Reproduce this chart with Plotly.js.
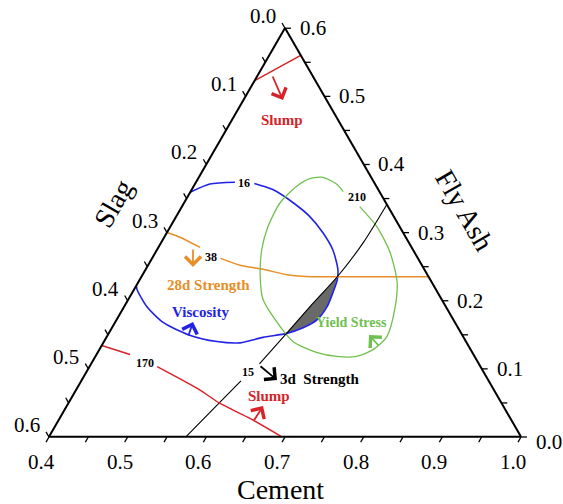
<!DOCTYPE html>
<html>
<head>
<meta charset="utf-8">
<script src="https://cdn.plot.ly/plotly-3.0.1.min.js"></script>
<style>html,body{margin:0;padding:0;background:#fff;}#chart{width:563px;height:504px;}</style>
</head>
<body>
<div id="chart"></div>
<script>
// ---- data (fly ash, slag, cement mass fractions) ----
const slumpTopFly    = [0.523, 0.560];
const slumpTopSlag   = [0.077, 0.000];
const slumpTopCement = [0.400, 0.440];

const viscFly    = [0.359, 0.371, 0.374, null, 0.372, 0.363, 0.344, 0.324, 0.300, 0.275, 0.246, 0.231, 0.212, 0.191, 0.172, 0.160, 0.152, 0.146, 0.138, 0.140, 0.150, 0.168, 0.191, 0.216, 0.222];
const viscSlag   = [0.241, 0.210, 0.177, null, 0.153, 0.134, 0.118, 0.107, 0.102, 0.102, 0.110, 0.118, 0.133, 0.151, 0.173, 0.197, 0.222, 0.255, 0.288, 0.317, 0.348, 0.371, 0.380, 0.380, 0.378];
const viscCement = [0.400, 0.419, 0.450, null, 0.475, 0.503, 0.538, 0.570, 0.598, 0.624, 0.645, 0.651, 0.655, 0.658, 0.655, 0.643, 0.627, 0.599, 0.574, 0.544, 0.502, 0.461, 0.429, 0.404, 0.400];

const str28Fly    = [0.300, 0.293, 0.278, null, 0.262, 0.252, 0.246, 0.238, 0.235, 0.235, 0.235, 0.235];
const str28Slag   = [0.300, 0.287, 0.269, null, 0.251, 0.231, 0.205, 0.178, 0.147, 0.116, 0.062, 0.000];
const str28Cement = [0.400, 0.420, 0.453, null, 0.487, 0.517, 0.549, 0.584, 0.618, 0.649, 0.703, 0.765];

const str3Fly    = [0.000, 0.043, 0.082, null, 0.107, 0.152, 0.194, 0.235, 0.285, 0.341];
const str3Slag   = [0.426, 0.368, 0.315, null, 0.279, 0.222, 0.169, 0.116, 0.058, 0.000];
const str3Cement = [0.574, 0.589, 0.603, null, 0.614, 0.626, 0.637, 0.649, 0.657, 0.659];

const yieldFly    = [0.338, 0.309, 0.271, 0.227, 0.187, 0.147, 0.128, 0.118, 0.118, 0.124, 0.140, 0.168, 0.202, 0.235, 0.275, 0.309, 0.344, 0.368, 0.379, 0.381, 0.371, 0.360];
const yieldSlag   = [0.036, 0.029, 0.031, 0.044, 0.067, 0.097, 0.124, 0.150, 0.175, 0.198, 0.220, 0.226, 0.227, 0.214, 0.192, 0.167, 0.134, 0.101, 0.079, 0.061, 0.049, 0.046];
const yieldCement = [0.626, 0.662, 0.698, 0.729, 0.746, 0.756, 0.748, 0.732, 0.707, 0.678, 0.640, 0.606, 0.571, 0.551, 0.533, 0.524, 0.522, 0.531, 0.542, 0.558, 0.580, 0.594];

const slumpBotFly    = [0.134, 0.121, null, 0.103, 0.069, 0.049, 0.027, 0.000];
const slumpBotSlag   = [0.466, 0.437, null, 0.411, 0.374, 0.358, 0.331, 0.304];
const slumpBotCement = [0.400, 0.443, null, 0.486, 0.557, 0.593, 0.642, 0.696];

const zoneFly    = [0.152, 0.194, 0.235, 0.212, 0.191, 0.172, 0.160, 0.152];
const zoneSlag   = [0.222, 0.169, 0.116, 0.133, 0.151, 0.173, 0.197, 0.222];
const zoneCement = [0.626, 0.637, 0.649, 0.655, 0.658, 0.655, 0.643, 0.626];

// ---- axis ticks and labels ----
const slagTicks   = [0, 0.05, 0.1, 0.15, 0.2, 0.25, 0.3, 0.35, 0.4, 0.45, 0.5, 0.55, 0.6];
const cementTicks = [0.4, 0.45, 0.5, 0.55, 0.6, 0.65, 0.7, 0.75, 0.8, 0.85, 0.9, 0.95, 1.0];
const flyTicks    = [0, 0.05, 0.1, 0.15, 0.2, 0.25, 0.3, 0.35, 0.4, 0.45, 0.5, 0.55, 0.6];
const slagLabelVals   = [0.0, 0.1, 0.2, 0.3, 0.4, 0.5, 0.6];
const slagLabels      = ['0.0', '0.1', '0.2', '0.3', '0.4', '0.5', '0.6'];
const cementLabelVals = [0.4, 0.5, 0.6, 0.7, 0.8, 0.9, 1.0];
const cementLabels    = ['0.4', '0.5', '0.6', '0.7', '0.8', '0.9', '1.0'];
const flyLabelVals    = [0.0, 0.1, 0.2, 0.3, 0.4, 0.5, 0.6];
const flyLabels       = ['0.0', '0.1', '0.2', '0.3', '0.4', '0.5', '0.6'];

const RED = 'rgb(215,35,40)', BLUE = 'rgb(35,35,230)', ORANGE = 'rgb(230,142,40)', GREEN = 'rgb(112,192,80)';
const SERIF = 'Liberation Serif, Times New Roman, serif';

function tr(a, b, c, color, width, extra) {
  return Object.assign({
    type: 'scatterternary', mode: 'lines', a: a, b: b, c: c,
    line: {color: color, width: width, shape: 'spline', smoothing: 0.7},
    hoverinfo: 'skip', showlegend: false, connectgaps: false
  }, extra || {});
}

const data = [
  tr(zoneFly, zoneSlag, zoneCement, 'rgb(105,105,105)', 0.5, {fill: 'toself', fillcolor: 'rgb(105,105,105)', line: {color: 'rgb(105,105,105)', width: 0.5}}),
  tr(slumpTopFly, slumpTopSlag, slumpTopCement, RED, 1.5),
  tr(viscFly, viscSlag, viscCement, BLUE, 1.6),
  tr(str28Fly, str28Slag, str28Cement, ORANGE, 1.5),
  tr(yieldFly, yieldSlag, yieldCement, GREEN, 1.3),
  tr(str3Fly, str3Slag, str3Cement, 'black', 1.1),
  tr(slumpBotFly, slumpBotSlag, slumpBotCement, RED, 1.5)
];

// ---- ternary frame geometry (same domain as layout.ternary) ----
const W = 563, H = 504;
const X0 = 49, X1 = 521, YB = 437;
const SIDE = X1 - X0, HT = SIDE * Math.sqrt(3) / 2;
// composition (fly ash, cement) -> page pixel, matching the ternary frame (fly 0..0.6, slag 0..0.6, cement 0.4..1)
function toPx(fly, cement) {
  const v = fly / 0.6;
  const u = (cement - 0.4) / 0.6 + v / 2;
  return [X0 + SIDE * u, YB - HT * v];
}
const px = x => x / W, py = y => 1 - y / H;

const shapes = [];
const tickAnn = [];
const TL = 6;
function addTick(p, dx, dy) {
  shapes.push({type: 'line', xref: 'paper', yref: 'paper', x0: px(p[0]), y0: py(p[1]),
               x1: px(p[0] + dx * TL), y1: py(p[1] + dy * TL), line: {color: 'black', width: 1.3}});
}
function addTickLabel(p, ox, oy, text) {
  tickAnn.push({xref: 'paper', yref: 'paper', x: px(p[0] + ox), y: py(p[1] + oy), text: text, showarrow: false,
                font: {family: SERIF, size: 21, color: 'black'}, xanchor: 'center', yanchor: 'middle'});
}
// slag on the left edge (cement = 0.4), ticks along constant-slag direction
slagTicks.forEach(s => addTick(toPx(0.6 - s, 0.4), -0.5, -0.866));
slagLabelVals.forEach((s, i) => addTickLabel(toPx(0.6 - s, 0.4), -22, -12, slagLabels[i]));
// cement on the bottom edge (fly ash = 0), ticks along constant-cement direction
cementTicks.forEach(c => addTick(toPx(0, c), -0.5, 0.866));
cementLabelVals.forEach((c, i) => addTickLabel(toPx(0, c), -8, 25, cementLabels[i]));
// fly ash on the right edge (slag = 0), ticks along constant-fly-ash direction
flyTicks.forEach(f => addTick(toPx(f, 1 - f), 1, 0));
flyLabelVals.forEach((f, i) => addTickLabel(toPx(f, 1 - f), 28, f === 0 ? 5 : 0, flyLabels[i]));

const axisCommon = {
  showgrid: false, showline: true, linecolor: 'black', linewidth: 2,
  ticks: '', showticklabels: false, title: {text: ''}
};

function label(x, y, text, color, size, extra) {
  return Object.assign({
    xref: 'paper', yref: 'paper', x: px(x), y: py(y), text: text, showarrow: false,
    font: {family: SERIF, size: size, color: color},
    xanchor: 'center', yanchor: 'middle'
  }, extra || {});
}
function arrow(hx, hy, tx, ty, color) {
  return {
    xref: 'paper', yref: 'paper', x: px(hx), y: py(hy), ax: tx - hx, ay: ty - hy,
    text: '', showarrow: true, arrowhead: 4, arrowsize: 1.7, arrowwidth: 1.8, arrowcolor: color, standoff: 0, startstandoff: 0
  };
}

const layout = {
  width: W, height: H, margin: {l: 0, r: 0, t: 0, b: 0},
  paper_bgcolor: 'white', showlegend: false,
  ternary: {
    sum: 1,
    domain: {x: [X0 / W, X1 / W], y: [(H - YB) / H, (H - YB + HT + 0.3) / H]},
    bgcolor: 'white',
    aaxis: Object.assign({}, axisCommon, {min: 0}),
    baxis: Object.assign({}, axisCommon, {min: 0}),
    caxis: Object.assign({}, axisCommon, {min: 0.4})
  },
  shapes: shapes,
  annotations: tickAnn.concat([
    label(113, 203, 'Slag', 'black', 28, {textangle: -60}),
    label(465, 210, 'Fly Ash', 'black', 28, {textangle: 60}),
    label(280, 489, 'Cement', 'black', 28),
    label(282, 120, '<b>Slump</b>', RED, 15),
    label(208, 285, '<b>28d Strength</b>', ORANGE, 15),
    label(200, 312, '<b>Viscosity</b>', BLUE, 15),
    label(351, 322, '<b>Yield Stress</b>', GREEN, 14),
    label(320, 379, '<b>3d\u00a0\u00a0Strength</b>', 'black', 15),
    label(269, 396, '<b>Slump</b>', RED, 15),
    label(244, 183, '<b>16</b>', 'black', 12),
    label(357, 197, '<b>210</b>', 'black', 12),
    label(211, 257, '<b>38</b>', 'black', 12),
    label(145, 363, '<b>170</b>', 'black', 12),
    label(248, 372, '<b>15</b>', 'black', 12),
    arrow(283, 100, 272, 75, RED),
    arrow(193, 267, 193, 248, ORANGE),
    arrow(193, 322, 188, 337, BLUE),
    arrow(277, 380, 259, 365, 'black'),
    arrow(263, 406, 253, 422, RED),
    arrow(369, 335, 380, 347, GREEN)
  ])
};

Plotly.newPlot('chart', data, layout, {displayModeBar: false, staticPlot: true});
</script>
</body>
</html>
